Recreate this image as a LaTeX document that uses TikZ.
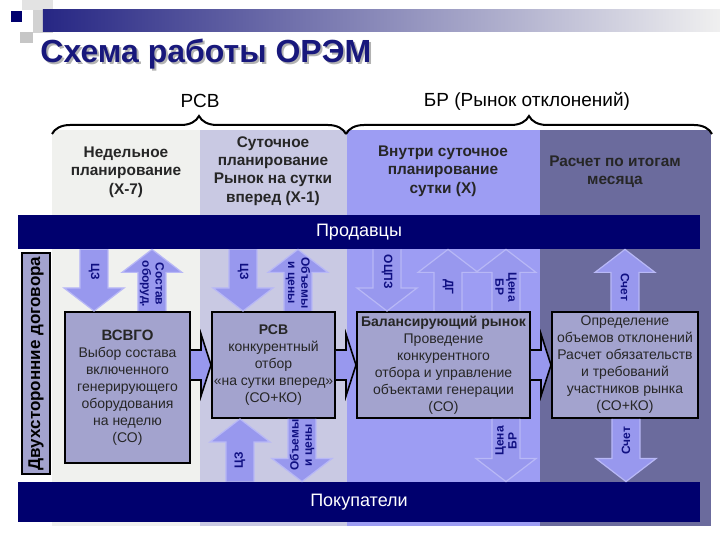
\documentclass[tikz,border=0pt]{standalone}
\usepackage{fontspec}
\setmainfont{Liberation Sans}
\usetikzlibrary{calc,decorations.pathreplacing}

\definecolor{navybar}{RGB}{0,0,110}
\definecolor{titleblue}{RGB}{24,24,124}
\definecolor{colweek}{RGB}{240,241,238}
\definecolor{colday}{RGB}{201,201,227}
\definecolor{colintra}{RGB}{157,157,243}
\definecolor{colmonth}{RGB}{107,107,157}
\definecolor{boxfill}{RGB}{163,163,206}
\definecolor{arrfill}{RGB}{152,152,238}
\definecolor{arredge}{RGB}{184,184,246}
\definecolor{arrtext}{RGB}{16,16,130}

\tikzset{
  hdr/.style={align=center, font=\fontsize{7.7}{9.2}\selectfont\bfseries, text=black!85},
  procbox/.style={draw=black, line width=1pt, fill=boxfill, inner sep=0pt, align=center,
    font=\fontsize{7}{8.5}\selectfont, text=black!85},
  bar/.style={fill=navybar, text=white, font=\fontsize{9}{10}\selectfont, inner sep=0pt},
  blockarr/.style={fill=arrfill, draw=arredge, line width=0.6pt},
  fatarr/.style={fill=arrfill, draw=black, line width=0.8pt},
  arrlabel/.style={align=center, font=\fontsize{6}{6.6}\selectfont\bfseries, text=arrtext, inner sep=0pt},
}

% block arrows: centre x, start node, tip node, label y, label angle, label
\newcommand{\arrdown}[6]{%
  \coordinate (s) at (#1,0 |- #2.south);
  \coordinate (t) at (#1,0 |- #3.north);
  \filldraw[blockarr] ($(s)+(-14,0)$) -- ($(t)+(-14,-23)$) -- ($(t)+(-30,-23)$) -- (t)
    -- ($(t)+(30,-23)$) -- ($(t)+(14,-23)$) -- ($(s)+(14,0)$);
  \node[arrlabel, rotate=#5] at (#1,#4) {#6};}
\newcommand{\arrup}[6]{%
  \coordinate (s) at (#1,0 |- #2.north);
  \coordinate (t) at (#1,0 |- #3.south);
  \filldraw[blockarr] ($(s)+(-14,0)$) -- ($(t)+(-14,23)$) -- ($(t)+(-30,23)$) -- (t)
    -- ($(t)+(30,23)$) -- ($(t)+(14,23)$) -- ($(s)+(14,0)$);
  \node[arrlabel, rotate=#5] at (#1,#4) {#6};}
% fat arrow between two boxes
\newcommand{\fatright}[2]{%
  \coordinate (s) at (#1.east |- #2.west);
  \coordinate (t) at (#2.west);
  \filldraw[fatarr] ($(s)+(0,-15)$) -- ($(t)+(-10,-15)$) -- ($(t)+(-10,-31)$) -- (t)
    -- ($(t)+(-10,31)$) -- ($(t)+(-10,15)$) -- ($(s)+(0,15)$);}

\begin{document}
\begin{tikzpicture}[x=0.5pt,y=-0.5pt]
	\useasboundingbox (0,0) rectangle (720,540);
	\fill[white] (0,0) rectangle (720,540);

	% title
	\fill[gray!22] (22,0) rectangle (53,10);
	\fill[gray!35] (33,10) rectangle (53,33);
	\fill[gray!45] (20,32) rectangle (33,43);
	\shade[left color=navybar!85, right color=gray!12] (43,10) rectangle (720,32);
	\fill[navybar] (11,11) rectangle (22,22);
	\node[anchor=west, inner sep=0pt, font=\fontsize{16}{18}\selectfont\bfseries, text=gray!60] at (42,56) {Схема работы ОРЭМ};
	\node[anchor=west, inner sep=0pt, font=\fontsize{16}{18}\selectfont\bfseries, text=titleblue] (title) at (40,54) {Схема работы ОРЭМ};

	\node[font=\fontsize{9.5}{11}\selectfont] (lrsv) at (200,101) {РСВ};
	\node[font=\fontsize{9.5}{11}\selectfont] (lbr) at (527,101) {БР (Рынок отклонений)};

	% columns
	\fill[colweek] (52,130) rectangle (200,526);
	\fill[colday] (200,130) rectangle (347,526);
	\fill[colintra] (347,130) rectangle (540,526);
	\fill[colmonth] (540,130) rectangle (711,526);

	\draw[line width=1pt, decorate, decoration={brace, amplitude=9pt}] (52,134) -- (346,134);
	\draw[line width=1pt, decorate, decoration={brace, amplitude=9pt}] (346,134) -- (712,134);

	\node[hdr] (hweek) at (126,172) {Недельное\\планирование\\(X-7)};
	\node[hdr] (hday) at (273,171) {Суточное\\планирование\\Рынок на сутки\\вперед (X-1)};
	\node[hdr] (hintra) at (443,171) {Внутри суточное\\планирование\\сутки (X)};
	\node[hdr] (hmonth) at (615,172) {Расчет по итогам\\месяца};

	\node[bar, minimum width=341pt, minimum height=17pt] (sellers) at (359,232) {Продавцы};
	\node[bar, minimum width=341pt, minimum height=20pt] (buyers) at (359,502) {Покупатели};

	\node[draw=black, line width=1pt, fill=boxfill, rotate=90, inner sep=0pt,
	  minimum width=110.5pt, minimum height=14pt, font=\fontsize{8.5}{10}\selectfont\bfseries]
	  (bilateral) at (36,363.5) {Двухсторонние договора};

	% boxes
	\node[procbox, minimum width=62.5pt, minimum height=75.5pt] (vsvgo) at (127.5,387.5)
	  {{\fontsize{7.5}{9}\selectfont\bfseries ВСВГО}\\Выбор состава\\включенного\\генерирующего\\оборудования\\на неделю\\(СО)};
	\node[procbox, minimum width=61.5pt, minimum height=53pt] (rsv) at (273.5,365)
	  {\textbf{РСВ}\\конкурентный\\отбор\\«на сутки вперед»\\(СО+КО)};
	\node[procbox, minimum width=86.5pt, minimum height=53pt] (br) at (443.5,365)
	  {\textbf{Балансирующий рынок}\\Проведение\\конкурентного\\отбора и управление\\объектами генерации\\(СО)};
	\node[procbox, minimum width=73pt, minimum height=53pt] (settle) at (625,365)
	  {Определение\\объемов отклонений\\Расчет обязательств\\и требований\\участников рынка\\(СО+КО)};

	% sellers side
	\arrdown{94}{sellers}{vsvgo}{272}{-90}{ЦЗ}
	\arrup{152}{vsvgo}{sellers}{284}{-90}{Состав\\оборуд.}
	\arrdown{243}{sellers}{rsv}{272}{-90}{ЦЗ}
	\arrup{298}{rsv}{sellers}{283}{-90}{Объемы\\и цены}
	\arrdown{387}{sellers}{br}{272}{-90}{ОЦПЗ}
	\arrup{448}{br}{sellers}{287}{-90}{ДГ}
	\arrup{506}{br}{sellers}{287}{-90}{Цена\\БР}
	\arrup{625}{settle}{sellers}{287}{-90}{Счет}

	% buyers side
	\arrup{240}{buyers}{rsv}{460}{90}{ЦЗ}
	\arrdown{302}{rsv}{buyers}{445}{90}{Объемы\\и цены}
	\arrdown{506}{br}{buyers}{441}{90}{Цена\\БР}
	\arrdown{626}{settle}{buyers}{441}{90}{Счет}

	\fatright{vsvgo}{rsv}
	\fatright{rsv}{br}
	\fatright{br}{settle}
\end{tikzpicture}
\end{document}
